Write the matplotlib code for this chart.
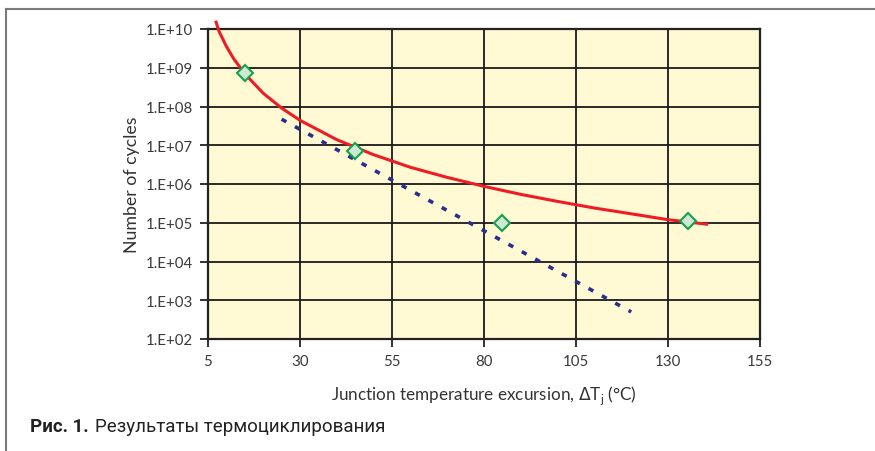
import matplotlib
matplotlib.use("Agg")
import matplotlib.pyplot as plt
from matplotlib.lines import Line2D

# ---- data ----
x_ticks = [5, 30, 55, 80, 105, 130, 155]
y_ticks = [1e2, 1e3, 1e4, 1e5, 1e6, 1e7, 1e8, 1e9, 1e10]
y_tick_labels = ["1.E+02", "1.E+03", "1.E+04", "1.E+05", "1.E+06",
                 "1.E+07", "1.E+08", "1.E+09", "1.E+10"]

# measured points (diamonds)
meas_dT = [15, 45, 85, 135.5]
meas_N = [7.2e8, 7.1e6, 1.0e5, 1.12e5]

# red trend curve
red_dT = [7.2, 8, 10, 12, 15, 20, 25, 30, 40, 50, 60, 70, 80, 90,
          100, 110, 120, 130, 140.5]
red_N = [1.5e10, 8.7e9, 3.55e9, 1.7e9, 7.0e8, 2.2e8, 9.1e7, 4.4e7,
         1.39e7, 5.7e6, 2.7e6, 1.48e6, 8.7e5, 5.4e5, 3.55e5, 2.4e5,
         1.7e5, 1.2e5, 9.2e4]

# blue dotted trend line (end points)
blue_dT = [25, 120]
blue_N = [4.7e7, 5.0e2]

xlabel = "Junction temperature excursion, $\\Delta$T$_\\mathregular{j}$ (°C)"
ylabel = "Number of cycles"
caption_bold = "Рис. 1."
caption_text = "Результаты термоциклирования"

# ---- figure ----
W, H = 875, 452
fig = plt.figure(figsize=(W / 100, H / 100), dpi=100)
fig.patch.set_facecolor("white")

ax = fig.add_axes([208 / W, 1 - 340 / H, (760 - 208) / W, (340 - 30) / H])
ax.set_facecolor("#FFF9D4")
ax.set_yscale("log")
ax.set_xlim(5, 155)
ax.set_ylim(1e2, 1e10)

ax.set_xticks(x_ticks)
ax.set_xticklabels([str(v) for v in x_ticks])
ax.set_yticks(y_ticks)
ax.set_yticklabels(y_tick_labels)
ax.minorticks_off()
ax.grid(True, color="#1a1a1a", linewidth=1.3)
ax.set_axisbelow(True)
for s in ax.spines.values():
    s.set_color("#222222")
    s.set_linewidth(1.6)
ax.tick_params(axis="both", direction="out", length=6, width=1.3,
               color="#222222", labelsize=10.8, labelcolor="#3a3a3a",
               pad=5)
for lab in ax.get_xticklabels() + ax.get_yticklabels():
    lab.set_family("Lato")

ax.plot(red_dT, red_N, color="#EE1C25", linewidth=2.2, clip_on=False,
        zorder=3)
ax.plot(blue_dT, blue_N, color="#2B2F8C", linewidth=2.6,
        linestyle=(0, (1.5, 2.72)), zorder=3)
ax.plot(meas_dT, meas_N, linestyle="none", marker="D", markersize=8.5,
        markerfacecolor="#CDE8D3", markeredgecolor="#16A04B",
        markeredgewidth=1.5, zorder=4, clip_on=False)

ax.set_xlabel(xlabel, fontsize=12.3, color="#333333", family="Lato",
              labelpad=11)
ax.set_ylabel(ylabel, fontsize=12.8, color="#333333", family="Lato",
              labelpad=4)

# caption
t1 = fig.text(30 / W, 1 - 427 / H, caption_bold, fontsize=13.5,
              fontweight="bold", color="#222222", family="Roboto",
              va="center", ha="left")
fig.canvas.draw()
bb = t1.get_window_extent()
fig.text((bb.x1 + 6) / W, 1 - 427 / H, caption_text, fontsize=13.5,
         color="#222222", family="Roboto", va="center", ha="left")

# frame lines (top and left)
fig.add_artist(Line2D([6 / W, 1.0], [1 - 10 / H, 1 - 10 / H],
                      color="#7a7a7a", linewidth=1.5,
                      transform=fig.transFigure))
fig.add_artist(Line2D([6 / W, 6 / W], [1 - 10 / H, 0.0],
                      color="#7a7a7a", linewidth=1.5,
                      transform=fig.transFigure))

fig.savefig("out.png", dpi=100)
